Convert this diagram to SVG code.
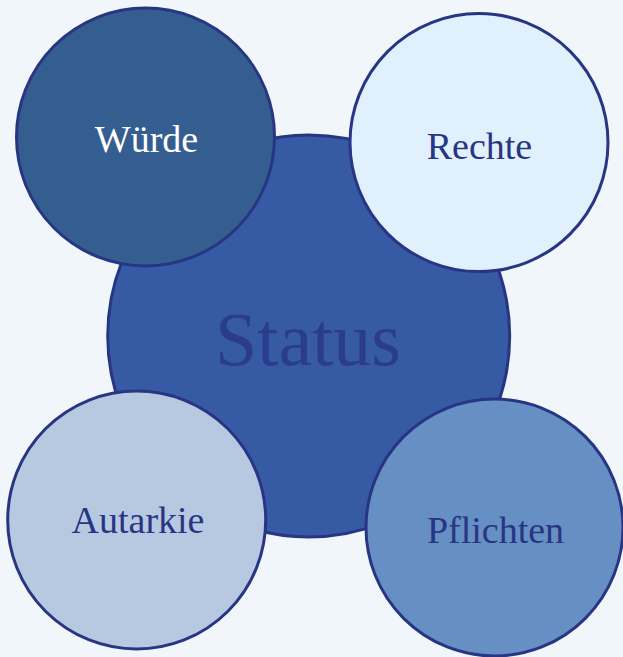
<svg xmlns="http://www.w3.org/2000/svg" width="623" height="657" viewBox="0 0 623 657">
<style>
.c{stroke:#283583;stroke-width:3}
.t{font-family:"Liberation Serif","DejaVu Serif",serif;font-size:38px;text-anchor:middle;fill:#283583}
</style>
<rect width="623" height="657" fill="#f0f6fa"/>
<g id="status">
<circle class="c" cx="308.7" cy="336" r="201" fill="#375aa5"/>
<text class="t" x="308" y="365" style="font-size:76px;fill:#2b3c8c">Status</text>
</g>
<g id="wuerde">
<circle class="c" cx="145.5" cy="137" r="129" fill="#355e90"/>
<text class="t" x="146.5" y="151.5" fill="#ffffff" style="fill:#ffffff">Würde</text>
</g>
<g id="rechte">
<circle class="c" cx="479" cy="142.6" r="129" fill="#e0f1fd"/>
<text class="t" x="479.5" y="158.5">Rechte</text>
</g>
<g id="autarkie">
<circle class="c" cx="136.7" cy="520" r="129" fill="#b7c9e1"/>
<text class="t" x="138" y="533">Autarkie</text>
</g>
<g id="pflichten">
<circle class="c" cx="494.5" cy="527.5" r="128.5" fill="#6690c4"/>
<text class="t" x="495.5" y="543">Pflichten</text>
</g>
<g id="connectors"/>
</svg>
